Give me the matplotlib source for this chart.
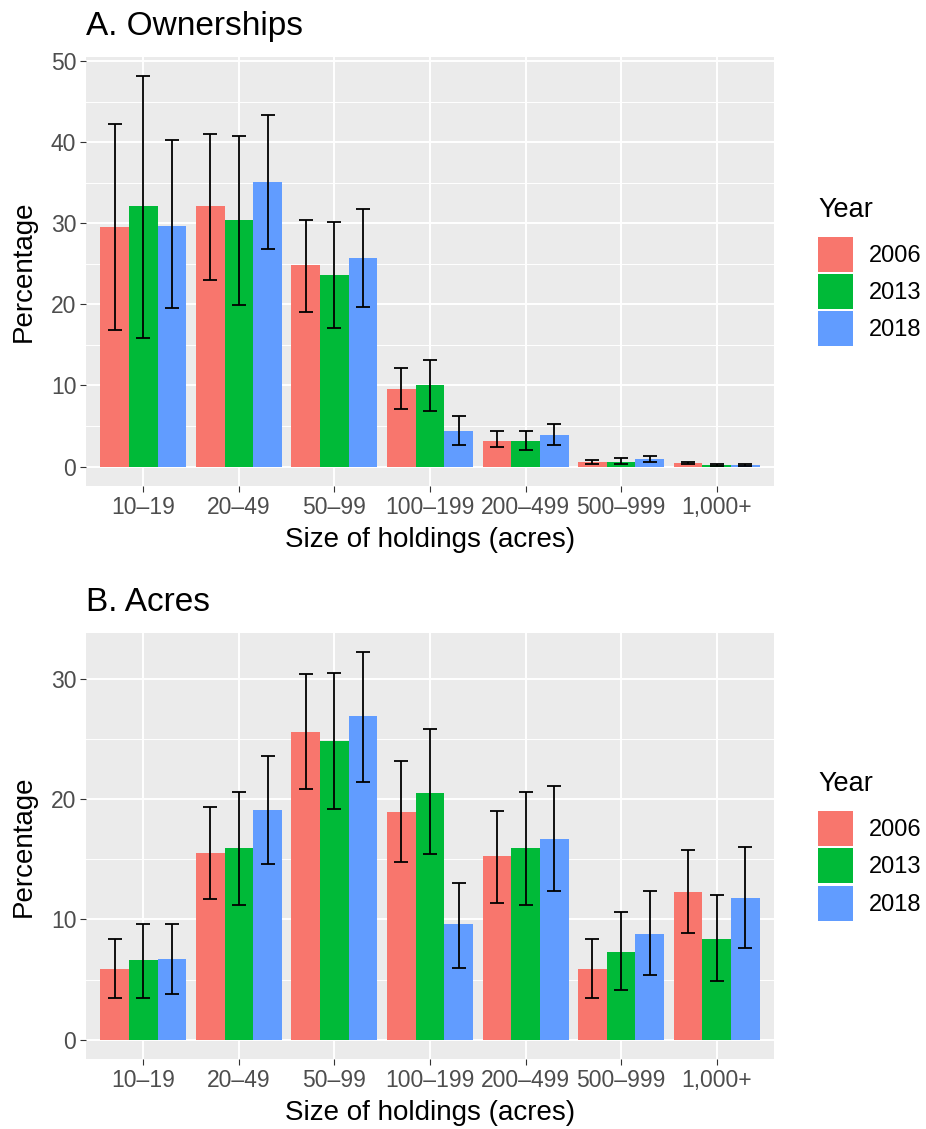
import numpy as np
import matplotlib.pyplot as plt
from matplotlib.patches import Patch
from matplotlib.ticker import MultipleLocator

plt.rcParams["font.family"] = ["Liberation Sans", "DejaVu Sans"]

sizes = ["10\u201319", "20\u201349", "50\u201399", "100\u2013199", "200\u2013499", "500\u2013999", "1,000+"]
years = ["2006", "2013", "2018"]
colors = ["#F8766D", "#00BA38", "#619CFF"]

# Panel A: ownerships (%), with lower / upper error bounds
own_2006 = [29.5, 32.1, 24.8, 9.6, 3.2, 0.6, 0.4]
own_2013 = [32.1, 30.4, 23.6, 10.1, 3.2, 0.6, 0.15]
own_2018 = [29.7, 35.1, 25.7, 4.4, 3.9, 0.9, 0.15]
own_lo_2006 = [16.8, 23.0, 19.0, 7.1, 2.4, 0.3, 0.3]
own_lo_2013 = [15.9, 19.9, 17.1, 6.9, 2.0, 0.3, 0.05]
own_lo_2018 = [19.5, 26.8, 19.7, 2.6, 2.6, 0.5, 0.05]
own_hi_2006 = [42.2, 41.0, 30.4, 12.1, 4.4, 0.8, 0.55]
own_hi_2013 = [48.1, 40.8, 30.1, 13.1, 4.4, 1.1, 0.3]
own_hi_2018 = [40.3, 43.4, 31.7, 6.2, 5.3, 1.3, 0.3]

# Panel B: acres (%)
acr_2006 = [5.9, 15.5, 25.6, 18.9, 15.3, 5.9, 12.3]
acr_2013 = [6.6, 15.9, 24.8, 20.5, 15.9, 7.3, 8.4]
acr_2018 = [6.7, 19.1, 26.9, 9.6, 16.7, 8.8, 11.8]
acr_lo_2006 = [3.5, 11.7, 20.8, 14.8, 11.4, 3.5, 8.9]
acr_lo_2013 = [3.5, 11.2, 19.2, 15.4, 11.2, 4.1, 4.9]
acr_lo_2018 = [3.8, 14.6, 21.4, 6.0, 12.4, 5.4, 7.6]
acr_hi_2006 = [8.4, 19.3, 30.4, 23.2, 19.0, 8.4, 15.8]
acr_hi_2013 = [9.6, 20.6, 30.5, 25.8, 20.6, 10.6, 12.0]
acr_hi_2018 = [9.6, 23.6, 32.2, 13.0, 21.1, 12.4, 16.0]


def draw_panel(ax, vals, los, his, title, yticks):
    x = np.arange(1, len(sizes) + 1)
    w = 0.3
    ax.set_facecolor("#EBEBEB")
    for i, (v, lo, hi) in enumerate(zip(vals, los, his)):
        pos = x + (i - 1) * w
        v = np.array(v)
        ax.bar(pos, v, width=w, color=colors[i], zorder=2)
        ax.errorbar(pos, v, yerr=[v - np.array(lo), np.array(hi) - v],
                    fmt="none", ecolor="black", elinewidth=1.3, capsize=5,
                    capthick=1.3, zorder=3)
    ax.set_xlim(0.4, len(sizes) + 0.6)
    ax.set_xticks(x)
    ax.set_xticklabels(sizes)
    ax.set_yticks(yticks)
    ax.yaxis.set_minor_locator(MultipleLocator(5))
    ax.grid(which="major", color="white", linewidth=1.4, zorder=0)
    ax.grid(which="minor", axis="y", color="white", linewidth=0.7, zorder=0)
    ax.set_axisbelow(True)
    for s in ax.spines.values():
        s.set_visible(False)
    ax.tick_params(axis="both", which="major", length=4, color="#333333",
                   labelcolor="#4D4D4D", pad=3)
    ax.tick_params(axis="x", labelsize=16.5)
    ax.tick_params(axis="y", labelsize=16.5)
    ax.tick_params(axis="both", which="minor", length=0)
    ax.set_xlabel("Size of holdings (acres)", fontsize=20, labelpad=6)
    ax.set_ylabel("Percentage", fontsize=20, labelpad=10)
    ax.set_title(title, loc="left", fontsize=24, pad=16)
    handles = [Patch(facecolor=c, edgecolor="none") for c in colors]
    leg = ax.legend(handles, years, title="Year", loc="center left",
                    bbox_to_anchor=(1 + 44 / 688, 0.5), borderaxespad=0,
                    borderpad=0, frameon=False, fontsize=17,
                    title_fontsize=19.5, handlelength=1.5, handleheight=1.9,
                    handletextpad=0.65, labelspacing=0.1)
    leg._legend_box.align = "left"
    leg._legend_box.sep = 10


fig = plt.figure(figsize=(9.26, 11.29), dpi=100)
W, H = 926, 1129
axA = fig.add_axes([86 / W, 1 - 486 / H, 688 / W, 429 / H])
axB = fig.add_axes([86 / W, 1 - 1059 / H, 688 / W, 426 / H])

draw_panel(axA, [own_2006, own_2013, own_2018],
           [own_lo_2006, own_lo_2013, own_lo_2018],
           [own_hi_2006, own_hi_2013, own_hi_2018],
           "A. Ownerships", [0, 10, 20, 30, 40, 50])
axA.set_ylim(-2.4, 50.5)

draw_panel(axB, [acr_2006, acr_2013, acr_2018],
           [acr_lo_2006, acr_lo_2013, acr_lo_2018],
           [acr_hi_2006, acr_hi_2013, acr_hi_2018],
           "B. Acres", [0, 10, 20, 30])
axB.set_ylim(-1.6, 33.8)

fig.savefig("out.png", dpi=100)
